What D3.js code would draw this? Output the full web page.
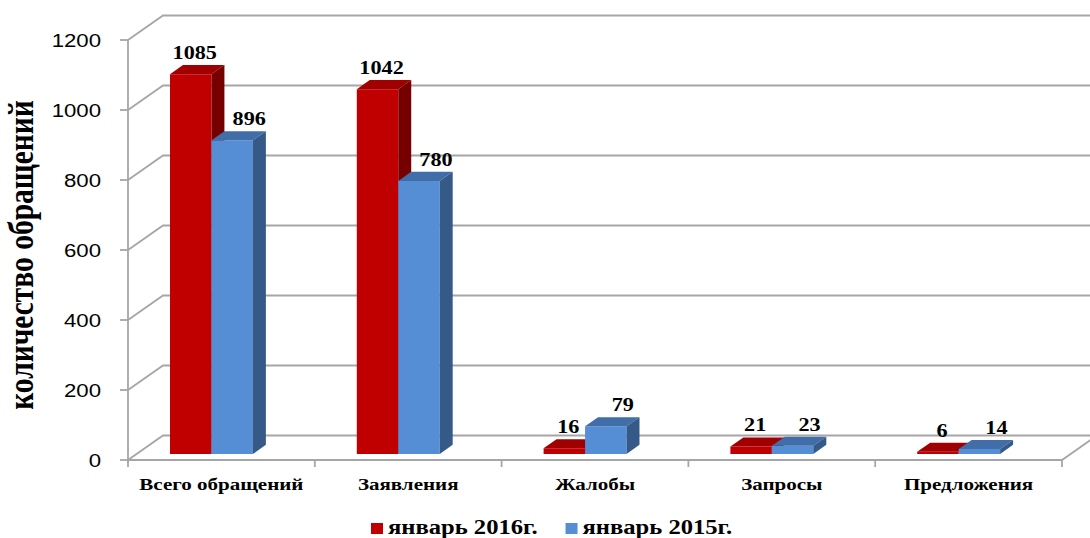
<!DOCTYPE html>
<html lang="ru">
<head>
<meta charset="UTF-8">
<title>Обращения</title>
<script src="https://cdnjs.cloudflare.com/ajax/libs/d3/7.8.5/d3.min.js"></script>
<style>
    body { margin: 0; background: #fff; }
    svg { display: block; }
</style>
</head>
<body>
<div id="wrapper"></div>
<script>
const categories = ["Всего обращений", "Заявления", "Жалобы", "Запросы", "Предложения"];
const seriesNames = ["январь 2016г.", "январь 2015г."];
const values2016 = [1085, 1042, 16, 21, 6];
const values2015 = [896, 780, 79, 23, 14];
const yTicks = [0, 200, 400, 600, 800, 1000, 1200];
const yTitle = "количество обращений";

const seriesValues = [values2016, values2015];
const colors = [
    { front: "#c00000", top: "#a00000", side: "#760000" },
    { front: "#558ed5", top: "#416ea9", side: "#355a88" }
];

const width = 1090, height = 538;
const sx = 1.2;           // the picture is stretched sideways
const DX = 35, DY = -24.5; // depth of the 3d box
const z0 = 0.25, z1 = 0.62;

const svg = d3.select("#wrapper").append("svg")
    .attr("width", width)
    .attr("height", height);

const x = d3.scaleBand().domain(categories).range([128, 1062]);
const y = d3.scaleLinear().domain([0, 1200]).range([460, 40]);
const inner = d3.scaleBand().domain(seriesNames)
    .range([x.bandwidth() * 0.178, x.bandwidth() * 0.622]);

// project a point of the 3d box onto the page
const P = (px, v, z) => [px + DX * z, y(v) + DY * z];
const line = pts => "M" + pts.map(p => p.join(",")).join("L");

function stretchedText(g, tx, ty, str) {
    return g.append("text")
        .attr("transform", `translate(${tx},${ty}) scale(${sx},1)`)
        .text(str);
}

const gridColor = "#a6a6a6";
const x0 = x.range()[0], x1 = x.range()[1];

// walls and gridlines
const walls = svg.append("g")
    .attr("fill", "none")
    .attr("stroke", gridColor)
    .attr("stroke-width", 1.8);

yTicks.forEach(t => {
    walls.append("path").attr("d", line([P(x0, t, 0), P(x0, t, 1), P(x1, t, 1)]));
    walls.append("path").attr("d", line([[x0 - 8, y(t)], [x0, y(t)]]));
});
walls.append("path").attr("d", line([[x0, y(0) + 3], [x0, y(1200)]]));
walls.append("path").attr("d", line([[x0, y(0)], [x1, y(0)], P(x1, 0, 1)]));
categories.concat([null]).forEach(c => {
    const px = c === null ? x1 : x(c);
    walls.append("path").attr("d", line([[px, y(0)], [px, y(0) + 7]]));
});

// y tick labels
const yLab = svg.append("g")
    .attr("font-family", "Liberation Sans, Arial, sans-serif")
    .attr("font-size", 18.5)
    .attr("text-anchor", "end")
    .attr("fill", "#000");
yTicks.forEach(t => stretchedText(yLab, 101, y(t) + 6.5, t));

// bars
const bars = svg.append("g");
categories.forEach((c, ci) => {
    seriesNames.forEach((s, si) => {
        const v = seriesValues[si][ci];
        const a = x(c) + inner(s), b = a + inner.bandwidth();
        const col = colors[si];
        bars.append("path").attr("fill", col.front)
            .attr("d", line([P(a, 0, z0), P(b, 0, z0), P(b, v, z0), P(a, v, z0)]) + "Z");
        bars.append("path").attr("fill", col.top)
            .attr("d", line([P(a, v, z0), P(b, v, z0), P(b, v, z1), P(a, v, z1)]) + "Z");
        bars.append("path").attr("fill", col.side)
            .attr("d", line([P(b, 0, z0), P(b, 0, z1), P(b, v, z1), P(b, v, z0)]) + "Z");
    });
});

// data labels
const labels = svg.append("g")
    .attr("font-family", "Liberation Serif, Times New Roman, serif")
    .attr("font-weight", "bold")
    .attr("font-size", 18.5)
    .attr("text-anchor", "middle")
    .attr("fill", "#000");
const labelShift = [4, 17];
categories.forEach((c, ci) => {
    seriesNames.forEach((s, si) => {
        const v = seriesValues[si][ci];
        const cx = x(c) + inner(s) + inner.bandwidth() / 2 + DX * z0 + labelShift[si];
        const top = P(0, v, z1)[1];
        stretchedText(labels, cx, top - 6, v);
    });
});

// category labels
const catLab = svg.append("g")
    .attr("font-family", "Liberation Serif, Times New Roman, serif")
    .attr("font-weight", "bold")
    .attr("font-size", 17.5)
    .attr("text-anchor", "middle")
    .attr("fill", "#000");
categories.forEach(c => stretchedText(catLab, x(c) + x.bandwidth() / 2, 490, c));

// y axis title
svg.append("text")
    .attr("transform", `translate(33,255) scale(${sx},1) rotate(-90)`)
    .attr("font-family", "Liberation Serif, Times New Roman, serif")
    .attr("font-weight", "bold")
    .attr("font-size", 29.5)
    .attr("text-anchor", "middle")
    .attr("fill", "#000")
    .text(yTitle);

// legend
const legend = svg.append("g")
    .attr("font-family", "Liberation Serif, Times New Roman, serif")
    .attr("font-weight", "bold")
    .attr("font-size", 20.5)
    .attr("fill", "#000");
let lx = 371;
seriesNames.forEach((s, si) => {
    legend.append("rect")
        .attr("x", lx).attr("y", 523)
        .attr("width", 12).attr("height", 11)
        .attr("fill", colors[si].front);
    const t = stretchedText(legend, lx + 17, 534, s);
    lx += 17 + t.node().getComputedTextLength() * sx + 28;
});
</script>
</body>
</html>
